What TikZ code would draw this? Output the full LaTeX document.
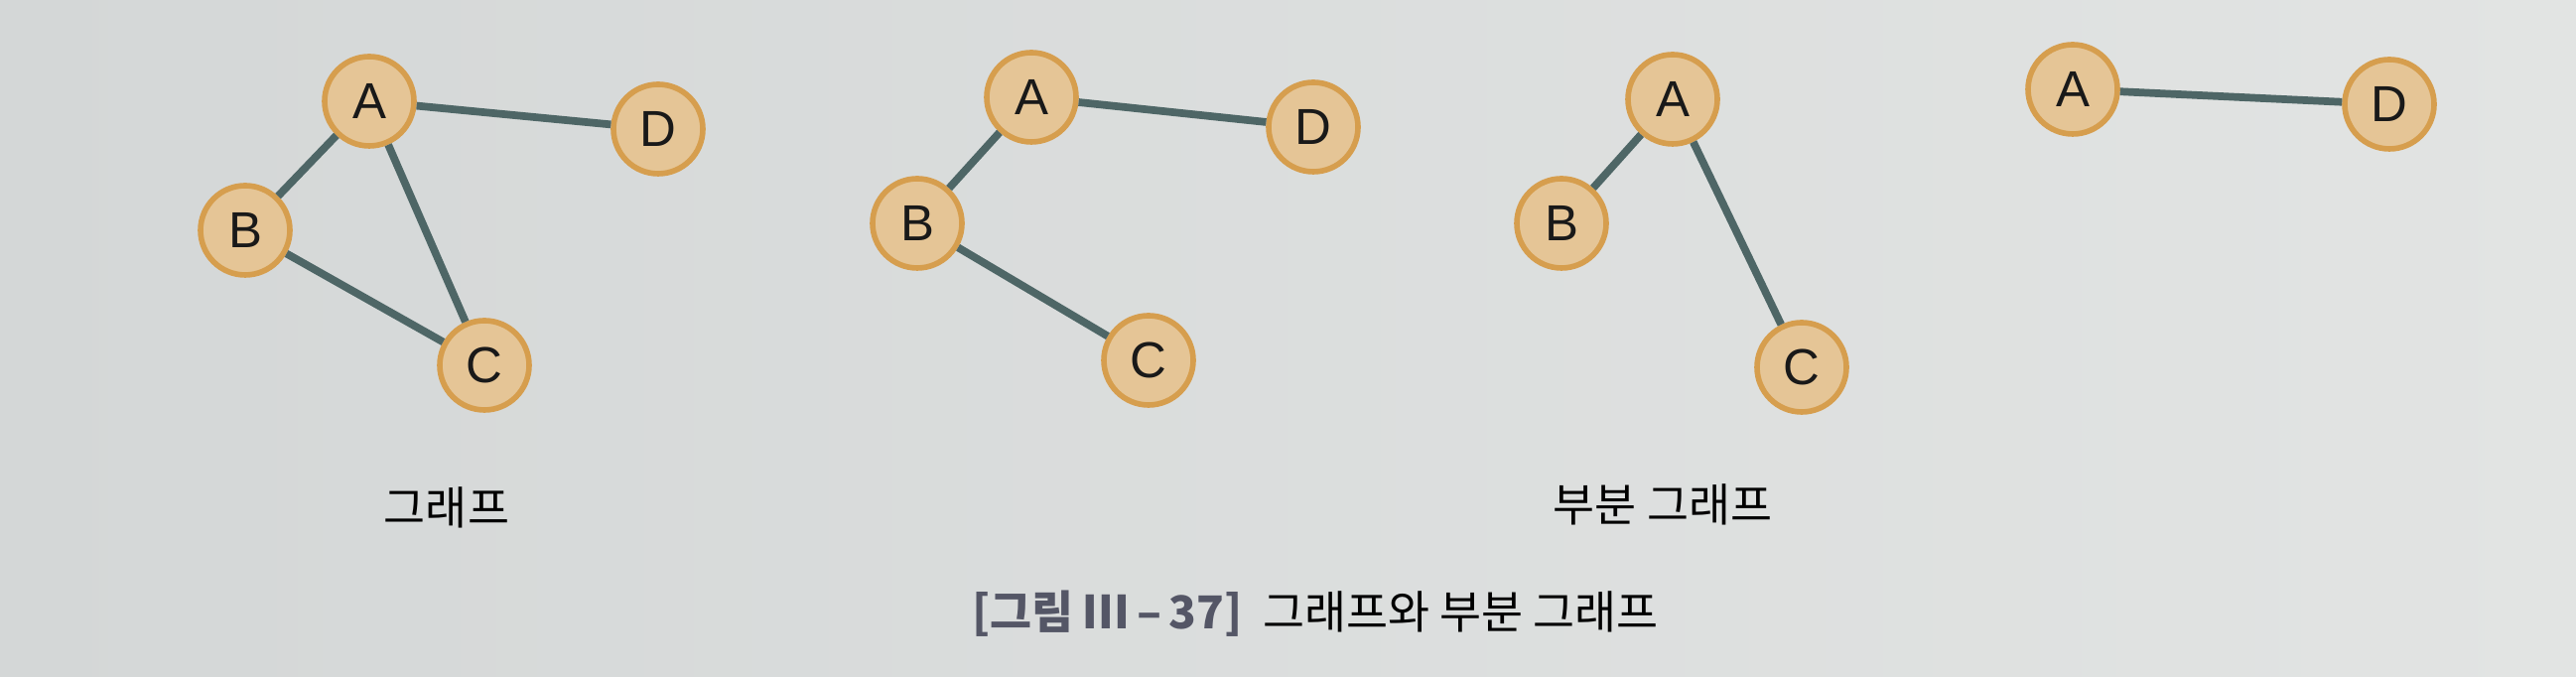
\documentclass[tikz,border=0pt]{standalone}
\usepackage{fontspec}
\usepackage{xcolor}
\usepackage{tikz}
\usetikzlibrary{positioning}
\setmainfont{Liberation Sans}
\newfontfamily\krfont{Noto Sans CJK KR}
\definecolor{papercolor}{RGB}{212,215,215}
\definecolor{paperlight}{RGB}{226,228,227}
\definecolor{vtxfill}{RGB}{229,197,150}
\definecolor{vtxborder}{RGB}{214,158,78}
\definecolor{edgecolor}{RGB}{78,102,102}
\definecolor{capgray}{RGB}{84,86,102}

\begin{document}
\begin{tikzpicture}[
    vtx/.style={circle, fill=vtxfill, draw=vtxborder, line width=1.6pt, minimum size=0.9cm, inner sep=0pt, font=\fontsize{14.5}{16}\selectfont, text=black!90},
    edge/.style={draw=edgecolor, line width=2.2pt},
    label/.style={font=\krfont\fontsize{13}{15}\selectfont, text=black}
]
    % === FOND ===
    \shade[left color=papercolor, right color=paperlight] (0, 0) rectangle (25.95, 6.82);
    \useasboundingbox (0, 0) rectangle (25.95, 6.82);

    % === GRAPHE ===
    \node[vtx] (a1) at (3.72, 5.80) {A};
    \node[vtx] (b1) at (2.47, 4.50) {B};
    \node[vtx] (c1) at (4.88, 3.14) {C};
    \node[vtx] (d1) at (6.63, 5.52) {D};
    \draw[edge] (a1) -- (b1);
    \draw[edge] (a1) -- (c1);
    \draw[edge] (b1) -- (c1);
    \draw[edge] (a1) -- (d1);
    \node[label] (graph1) at (4.50, 1.71) {그래프};

    % === SOUS-GRAPHE 1 ===
    \node[vtx] (a2) at (10.39, 5.84) {A};
    \node[vtx] (b2) at (9.24, 4.57) {B};
    \node[vtx] (c2) at (11.57, 3.19) {C};
    \node[vtx] (d2) at (13.23, 5.54) {D};
    \draw[edge] (a2) -- (b2);
    \draw[edge] (b2) -- (c2);
    \draw[edge] (a2) -- (d2);

    % === SOUS-GRAPHE 2 ===
    \node[vtx] (a3) at (16.85, 5.82) {A};
    \node[vtx] (b3) at (15.73, 4.57) {B};
    \node[vtx] (c3) at (18.15, 3.12) {C};
    \draw[edge] (a3) -- (b3);
    \draw[edge] (a3) -- (c3);
    \node[label] (graph3) at (16.75, 1.74) {부분 그래프};

    % === SOUS-GRAPHE 3 ===
    \node[vtx] (a4) at (20.88, 5.92) {A};
    \node[vtx] (d4) at (24.07, 5.77) {D};
    \draw[edge] (a4) -- (d4);

    % === LÉGENDE ===
    \node[label] (caption) at (13.25, 0.64) {{\bfseries\color{capgray}[그림 Ⅲ\,–\,37]}\ \ 그래프와 부분 그래프};

\end{tikzpicture}
\end{document}
